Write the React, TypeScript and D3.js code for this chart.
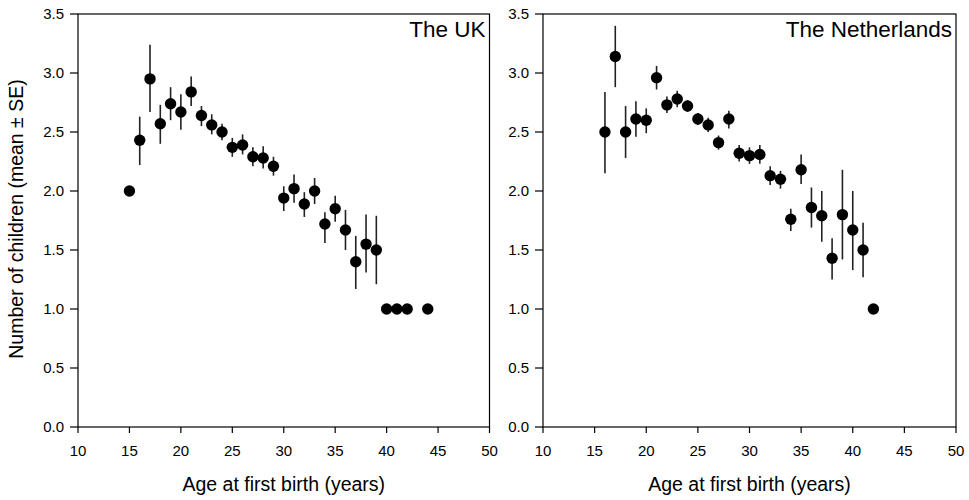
import React from "react";
import * as d3 from "d3";

const ukAge = [15,16,17,18,19,20,21,22,23,24,25,26,27,28,29,30,31,32,33,34,35,36,37,38,39,40,41,42,44];
const ukMean = [2.00,2.43,2.95,2.57,2.74,2.67,2.84,2.64,2.56,2.50,2.37,2.39,2.29,2.28,2.21,1.94,2.02,1.89,2.00,1.72,1.85,1.67,1.40,1.55,1.50,1.00,1.00,1.00,1.00];
const ukLow = [2.00,2.22,2.67,2.40,2.60,2.52,2.72,2.55,2.48,2.43,2.29,2.31,2.21,2.19,2.13,1.83,1.90,1.78,1.89,1.56,1.74,1.50,1.17,1.31,1.21,1.00,1.00,1.00,1.00];
const ukHigh = [2.00,2.63,3.24,2.73,2.88,2.82,2.97,2.72,2.65,2.57,2.45,2.48,2.37,2.38,2.29,2.04,2.14,1.99,2.11,1.82,1.96,1.84,1.62,1.80,1.79,1.00,1.00,1.00,1.00];

const nlAge = [16,17,18,19,20,21,22,23,24,25,26,27,28,29,30,31,32,33,34,35,36,37,38,39,40,41,42];
const nlMean = [2.50,3.14,2.50,2.61,2.60,2.96,2.73,2.78,2.72,2.61,2.56,2.41,2.61,2.32,2.30,2.31,2.13,2.10,1.76,2.18,1.86,1.79,1.43,1.80,1.67,1.50,1.00];
const nlLow = [2.15,2.88,2.28,2.46,2.49,2.86,2.66,2.71,2.67,2.56,2.50,2.35,2.53,2.25,2.23,2.23,2.05,2.02,1.66,2.06,1.69,1.57,1.25,1.42,1.33,1.27,1.00];
const nlHigh = [2.84,3.40,2.72,2.76,2.70,3.06,2.80,2.85,2.77,2.66,2.62,2.47,2.68,2.39,2.37,2.39,2.21,2.17,1.85,2.31,2.03,2.00,1.60,2.18,2.00,1.73,1.00];

const xTicks = [10,15,20,25,30,35,40,45,50];
const yTicks = [0,0.5,1,1.5,2,2.5,3,3.5];

const FONT = "Liberation Sans, Arial, sans-serif";

function Panel({ x0, x1, title, age, mean, low, high }: any) {
  const top = 14, bottom = 427;
  const x = d3.scaleLinear().domain([10, 50]).range([x0, x1]);
  const y = d3.scaleLinear().domain([0, 3.5]).range([bottom, top]);
  return (
    <g>
      <rect x={x0} y={top} width={x1 - x0} height={bottom - top} fill="none" stroke="#000" strokeWidth={1.2} />
      {xTicks.map((t) => (
        <g key={"x" + t}>
          <line x1={x(t)} x2={x(t)} y1={bottom} y2={bottom + 6} stroke="#000" strokeWidth={1.2} />
          <text x={x(t)} y={bottom + 29} textAnchor="middle" fontSize={15} fontFamily={FONT} fill="#000">{t}</text>
        </g>
      ))}
      {yTicks.map((t) => (
        <g key={"y" + t}>
          <line x1={x0 - 8} x2={x0} y1={y(t)} y2={y(t)} stroke="#000" strokeWidth={1.2} />
          <text x={x0 - 14} y={y(t) + 5} textAnchor="end" fontSize={15} fontFamily={FONT} fill="#000">{t.toFixed(1)}</text>
        </g>
      ))}
      {age.map((a: number, i: number) => (
        <line key={"e" + i} x1={x(a)} x2={x(a)} y1={y(low[i])} y2={y(high[i])} stroke="#222" strokeWidth={1.6} />
      ))}
      {age.map((a: number, i: number) => (
        <circle key={"c" + i} cx={x(a)} cy={y(mean[i])} r={5.7} fill="#000" />
      ))}
      <text x={x1 - 4} y={top + 23} textAnchor="end" fontSize={22.5} fontFamily={FONT} fill="#000">{title}</text>
      <text x={(x0 + x1) / 2} y={491} textAnchor="middle" fontSize={19.5} fontFamily={FONT} fill="#000">Age at first birth (years)</text>
    </g>
  );
}

export default function App() {
  return (
    <svg width={969} height={500} style={{ position: "absolute", left: 0, top: 0, background: "#fff" }}>
      <rect width={969} height={500} fill="#fff" />
      <Panel x0={78} x1={489.5} title="The UK" age={ukAge} mean={ukMean} low={ukLow} high={ukHigh} />
      <Panel x0={543} x1={956} title="The Netherlands" age={nlAge} mean={nlMean} low={nlLow} high={nlHigh} />
      <text transform="translate(23,219) rotate(-90)" textAnchor="middle" fontSize={19.5} fontFamily={FONT} fill="#000">Number of children (mean ± SE)</text>
    </svg>
  );
}
